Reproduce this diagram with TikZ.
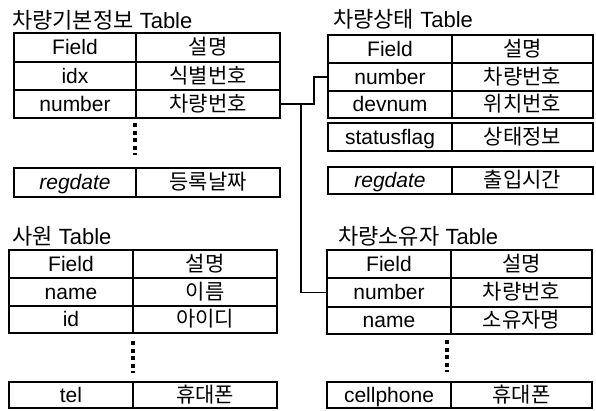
\documentclass[tikz,border=0pt]{standalone}
\usepackage{fontspec}
\setmainfont{Liberation Sans}
\newfontfamily\kr{Noto Sans CJK KR}
\tikzset{
  cell/.style={draw, line width=1.8pt, inner sep=0pt, outer sep=0pt, anchor=north west,
    text height=17pt, text depth=3pt, font=\fontsize{21}{22}\selectfont},
  ttl/.style={anchor=west, inner sep=0pt, font=\fontsize{22}{24}\selectfont},
  link/.style={line width=1.8pt},
  more/.style={line width=3.2pt, dash pattern=on 4pt off 3.5pt}
}
\begin{document}
\begin{tikzpicture}[x=1pt,y=-1pt]
\useasboundingbox (0,0) rectangle (596,410);
% 차량기본정보
\node[ttl] (ta) at (12,20) {{\kr 차량기본정보} Table};
\node[cell, minimum width=122, minimum height=29] (a1) at (14,33) {Field};
\node[cell, minimum width=144, minimum height=29] (a1k) at (a1.north east) {\kr 설명};
\node[cell, minimum width=122, minimum height=28] (a2) at (a1.south west) {idx};
\node[cell, minimum width=144, minimum height=28] (a2k) at (a2.north east) {\kr 식별번호};
\node[cell, minimum width=122, minimum height=28] (a3) at (a2.south west) {number};
\node[cell, minimum width=144, minimum height=28] (a3k) at (a3.north east) {\kr 차량번호};
\node[cell, minimum width=122, minimum height=29] (a4) at (14,168) {\itshape regdate};
\node[cell, minimum width=144, minimum height=29] (a4k) at (a4.north east) {\kr 등록날짜};
\draw[more] (a3.south east) ++(-1,5) -- ++(0,32);
% 차량상태
\node[ttl] (tb) at (333,19) {{\kr 차량상태} Table};
\node[cell, minimum width=124, minimum height=28] (b1) at (328,35) {Field};
\node[cell, minimum width=141, minimum height=28] (b1k) at (b1.north east) {\kr 설명};
\node[cell, minimum width=124, minimum height=28] (b2) at (b1.south west) {number};
\node[cell, minimum width=141, minimum height=28] (b2k) at (b2.north east) {\kr 차량번호};
\node[cell, minimum width=124, minimum height=27] (b3) at (b2.south west) {devnum};
\node[cell, minimum width=141, minimum height=27] (b3k) at (b3.north east) {\kr 위치번호};
\node[cell, minimum width=124, minimum height=28] (b4) at (328,123) {statusflag};
\node[cell, minimum width=141, minimum height=28] (b4k) at (b4.north east) {\kr 상태정보};
\node[cell, minimum width=124, minimum height=27] (b5) at (328,167) {\itshape regdate};
\node[cell, minimum width=141, minimum height=27] (b5k) at (b5.north east) {\kr 출입시간};
% 사원
\node[ttl] (tc) at (12,236) {{\kr 사원} Table};
\node[cell, minimum width=124, minimum height=28] (c1) at (9,250) {Field};
\node[cell, minimum width=144, minimum height=28] (c1k) at (c1.north east) {\kr 설명};
\node[cell, minimum width=124, minimum height=28] (c2) at (c1.south west) {name};
\node[cell, minimum width=144, minimum height=28] (c2k) at (c2.north east) {\kr 이름};
\node[cell, minimum width=124, minimum height=27] (c3) at (c2.south west) {id};
\node[cell, minimum width=144, minimum height=27] (c3k) at (c3.north east) {\kr 아이디};
\node[cell, minimum width=124, minimum height=26] (c4) at (9,382) {tel};
\node[cell, minimum width=144, minimum height=26] (c4k) at (c4.north east) {\kr 휴대폰};
\draw[more] (c3.south east) ++(0,8) -- ++(0,32);
% 차량소유자
\node[ttl] (td) at (338,236) {{\kr 차량소유자} Table};
\node[cell, minimum width=124, minimum height=28] (d1) at (327,250) {Field};
\node[cell, minimum width=141, minimum height=28] (d1k) at (d1.north east) {\kr 설명};
\node[cell, minimum width=124, minimum height=29] (d2) at (d1.south west) {number};
\node[cell, minimum width=141, minimum height=29] (d2k) at (d2.north east) {\kr 차량번호};
\node[cell, minimum width=124, minimum height=27] (d3) at (d2.south west) {name};
\node[cell, minimum width=141, minimum height=27] (d3k) at (d3.north east) {\kr 소유자명};
\node[cell, minimum width=124, minimum height=26] (d4) at (327,382) {cellphone};
\node[cell, minimum width=141, minimum height=26] (d4k) at (d4.north east) {\kr 휴대폰};
\draw[more] (d3.south east) ++(-4,6) -- ++(0,32);
% number 연결
\draw[link] (a3k.east) -- ++(34,0) |- (b2.west);
\path (a3k.east) ++(21,0) coordinate (jn);
\draw[link] (jn) |- (d2.west);
\end{tikzpicture}
\end{document}
